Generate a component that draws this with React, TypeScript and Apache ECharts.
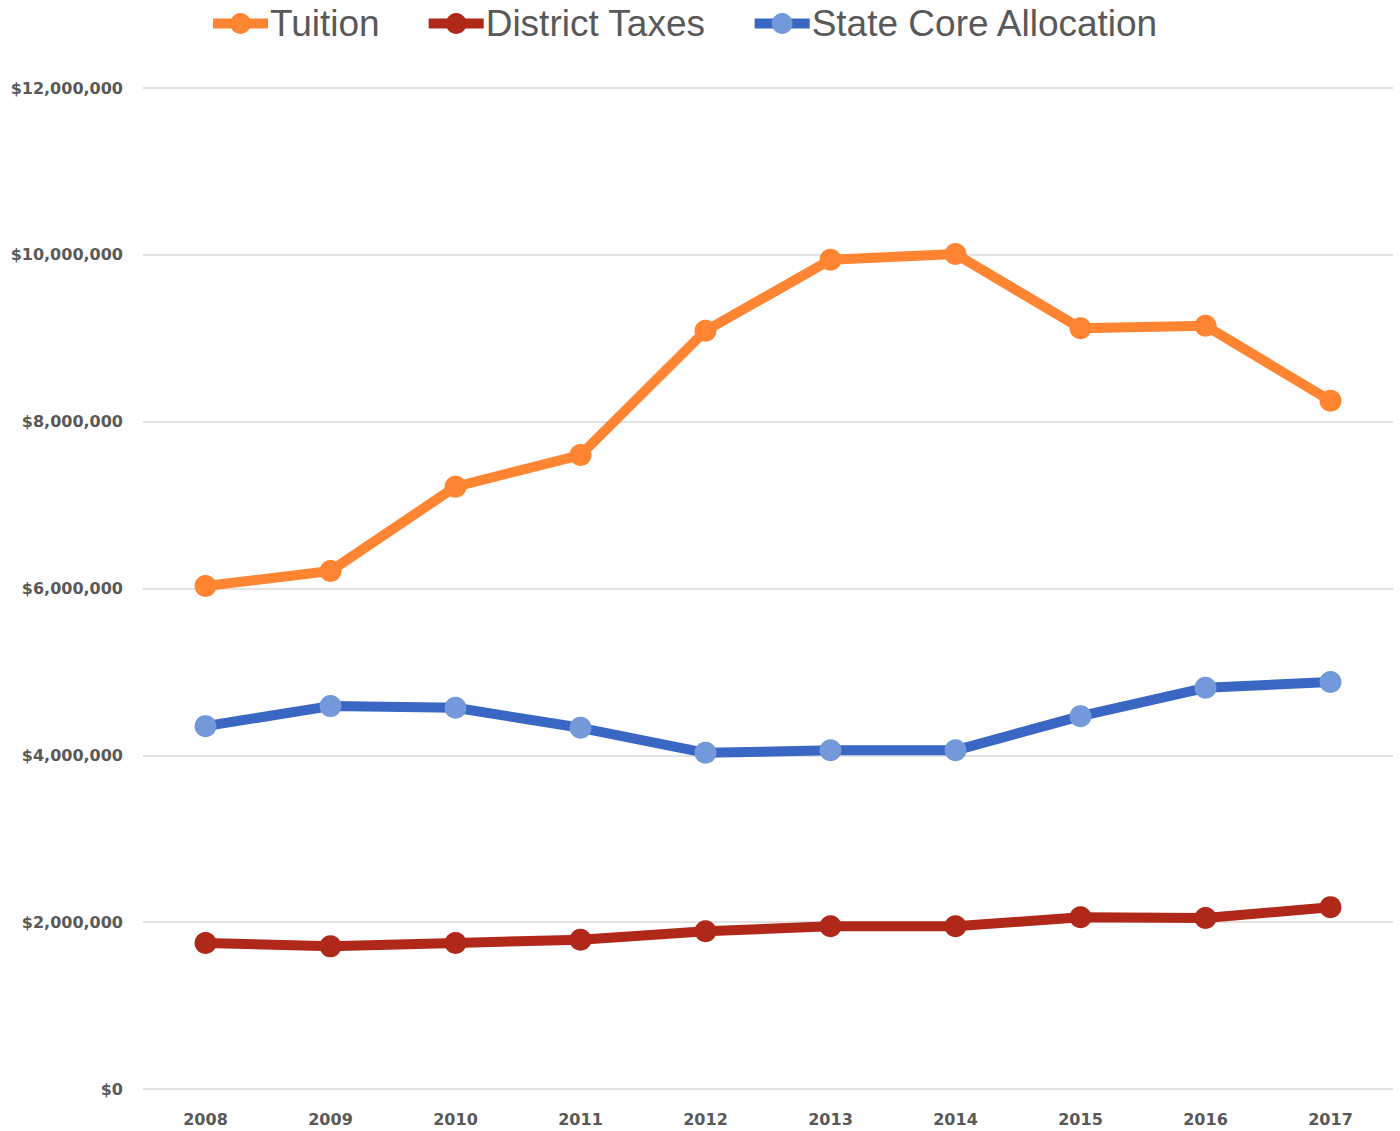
import React, { useEffect, useRef } from "react";
import * as echarts from "echarts";

const years = ["2008", "2009", "2010", "2011", "2012", "2013", "2014", "2015", "2016", "2017"];
const tuition = [6030000, 6210000, 7220000, 7600000, 9090000, 9940000, 10010000, 9120000, 9150000, 8250000];
const districtTaxes = [1750000, 1710000, 1750000, 1790000, 1890000, 1950000, 1950000, 2060000, 2050000, 2180000];
const stateCore = [4350000, 4590000, 4570000, 4330000, 4030000, 4060000, 4060000, 4470000, 4810000, 4880000];

const fmt = (v: number) => "$" + v.toLocaleString("en-US");

export default function App() {
  const ref = useRef<HTMLDivElement>(null);
  useEffect(() => {
    document.body.style.margin = "0";
    const chart = echarts.init(ref.current!, undefined, { renderer: "svg" });
    const mk = (name: string, data: number[], line: string, marker: string) => ({
      name,
      type: "line",
      data,
      symbol: "circle",
      symbolSize: 22,
      lineStyle: { color: line, width: 10 },
      itemStyle: { color: marker },
      color: line,
    });
    chart.setOption({
      animation: false,
      backgroundColor: "#ffffff",
      textStyle: { fontFamily: "Liberation Sans" },
      legend: {
        top: 0,
        left: 203,
        itemWidth: 55,
        itemHeight: 26,
        itemGap: 44,
        lineStyle: { width: 10 },
        textStyle: { fontSize: 37, color: "#595959", fontFamily: "Liberation Sans", padding: [0, 0, 0, -3] },
        data: ["Tuition", "District Taxes", "State Core Allocation"],
      },
      grid: { left: 143, right: 7, top: 88, bottom: 42, containLabel: false },
      xAxis: {
        type: "category",
        data: years,
        boundaryGap: true,
        axisLine: { show: false },
        axisTick: { show: false },
        axisLabel: { fontSize: 16, fontWeight: "bold", color: "#595959", margin: 22, fontFamily: "DejaVu Sans" },
      },
      yAxis: {
        type: "value",
        min: 0,
        max: 12000000,
        interval: 2000000,
        axisLine: { show: false },
        axisTick: { show: false },
        splitLine: { lineStyle: { color: "#d9d9d9", width: 1.5 } },
        axisLabel: { fontSize: 16, fontWeight: "bold", color: "#595959", margin: 20, formatter: fmt, fontFamily: "DejaVu Sans" },
      },
      series: [
        mk("Tuition", tuition, "#FF8533", "#FF8533"),
        mk("District Taxes", districtTaxes, "#B0281A", "#B0281A"),
        mk("State Core Allocation", stateCore, "#3A66C4", "#7399DB"),
      ],
    });
    return () => chart.dispose();
  }, []);
  return <div ref={ref} style={{ width: 1400, height: 1131 }} />;
}
